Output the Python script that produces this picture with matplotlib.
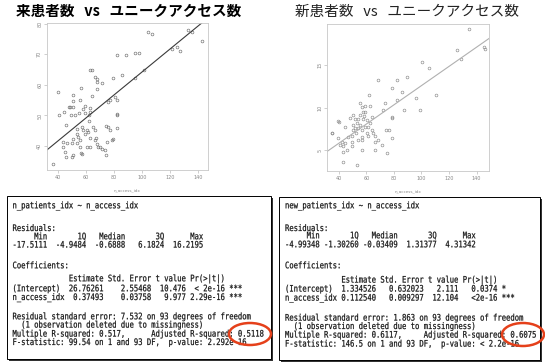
import numpy as np
import matplotlib
matplotlib.use("Agg")
import matplotlib.pyplot as plt
from matplotlib.patches import Rectangle, Ellipse, PathPatch
from matplotlib.textpath import TextPath
from matplotlib.font_manager import FontProperties
from matplotlib.transforms import Affine2D

# scatter data
left_x = [104.3, 106.7, 82.1, 88.4, 94.8, 97.9, 62.6, 64.3, 66.2, 67.9, 71.0, 78.9, 85.3,
          56.2, 40.0, 50.7, 50.7, 64.3, 55.5, 47.6, 50.7, 59.1, 57.9, 76.9, 75.7, 44.1,
          40.5, 49.1, 52.0, 62.6, 62.6, 55.0, 59.1, 81.7, 62.1, 62.1, 45.5, 53.1, 56.7,
          57.4, 60.3, 59.1, 61.4, 65.0, 66.2, 53.1, 54.3, 55.5, 62.6, 66.9, 74.1, 76.9,
          74.6, 78.1, 43.1, 46.0, 49.6, 53.6, 50.7, 43.1, 44.8, 45.5, 50.7, 56.0, 60.7,
          62.6, 68.6, 71.4, 73.4, 74.1, 36.4, 142.4, 132.9, 135.3, 124.6, 127.0, 121.0,
          101.2, 94.8, 80.5, 81.7, 81.7, 67.4, 67.4, 81.7, 75.7, 78.9, 66.2, 67.4, 69.8,
          55.5, 56.7, 49.6, 48.4]
left_y = [77.2, 76.7, 69.6, 69.9, 70.5, 70.5, 65.0, 65.0, 62.5, 60.9, 60.6, 62.3, 63.3,
          59.1, 57.7, 56.6, 54.6, 56.3, 55.0, 52.8, 52.8, 53.0, 52.2, 55.0, 54.4, 51.1,
          50.1, 50.1, 50.1, 52.6, 51.1, 50.8, 50.8, 50.1, 50.1, 48.2, 46.8, 45.7, 46.3,
          45.4, 45.2, 44.1, 44.6, 46.3, 45.2, 44.1, 43.0, 41.9, 42.8, 42.5, 46.5, 45.4,
          41.4, 41.9, 41.4, 40.9, 41.0, 40.9, 42.2, 39.6, 38.1, 36.5, 37.0, 37.6, 39.7,
          39.7, 39.7, 39.2, 38.7, 37.0, 34.3, 74.3, 78.0, 77.2, 72.3, 71.2, 71.8,
          65.0, 62.4, 56.0, 55.0, 50.6, 62.0, 58.8, 45.8, 46.3, 42.2, 41.9, 40.8, 39.7,
          39.7, 37.3, 36.5, 52.8]

right_x = [125.8, 100.4, 105.2, 68.8, 82.2, 89.5, 78.5, 85.8, 62.3, 96.2, 110.8, 82.2, 73.7,
           55.5, 59.1, 62.8, 56.7, 87.7, 99.1, 72.0, 57.9, 59.1, 78.5, 50.6, 55.5, 64.0,
           51.9, 54.3, 57.9, 60.4, 53.1, 50.6, 55.5, 59.1, 61.5, 51.9, 54.3, 56.7, 50.6,
           64.0, 65.2, 60.4, 61.5, 66.4, 74.4, 44.6, 39.7, 34.9, 47.0, 49.5, 54.3, 56.7,
           66.4, 68.8, 78.5, 39.7, 42.2, 40.9, 43.3, 44.6, 49.5, 49.5, 56.7, 66.4, 71.3,
           45.8, 42.9, 74.9, 42.9, 53.1, 134.5, 145.5, 146.2, 128.4, 40.0, 35.1, 78.8, 76.4,
           58.3, 52.5, 63.0, 57.0, 48.0]
right_y = [16.7, 15.3, 14.7, 13.3, 13.3, 13.6, 12.3, 11.9, 11.5, 11.2, 11.5, 10.9, 10.5,
           10.5, 10.2, 10.2, 10.1, 9.76, 9.76, 9.76, 9.56, 9.56, 8.79, 9.17, 9.17, 8.9,
           8.67, 8.67, 8.67, 8.59, 8.2, 8.0, 8.0, 7.8, 7.8, 7.6, 7.6, 7.4, 7.4,
           7.4, 7.0, 7.0, 6.7, 6.7, 7.4, 7.8, 8.5, 7.1, 6.6, 6.7, 6.2, 6.2,
           6.05, 6.2, 6.45, 6.45, 6.05, 5.66, 5.47, 5.86, 6.05, 5.47, 5.08, 5.0, 5.66,
           5.08, 4.88, 4.69, 3.6, 3.33, 19.2, 17.1, 16.9, 15.7, 8.39, 7.0, 8.97, 7.4,
           9.0, 7.0, 8.2, 6.6, 8.8]

# regression coefficients from the R output
left_coef = (26.76261, 0.37493)
right_coef = (1.334526, 0.112540)

left_title = "来患者数   vs   ユニークアクセス数"
right_title = "新患者数   vs   ユニークアクセス数"

left_lines = [
    "n_patients_idx ~ n_access_idx",
    "Residuals:",
    "     Min       1Q   Median       3Q      Max",
    "-17.5111  -4.9484  -0.6888   6.1824  16.2195",
    "Coefficients:",
    "             Estimate Std. Error t value Pr(>|t|)",
    "(Intercept)  26.76261    2.55468  10.476  < 2e-16 ***",
    "n_access_idx  0.37493    0.03758   9.977 2.29e-16 ***",
    "Residual standard error: 7.532 on 93 degrees of freedom",
    "  (1 observation deleted due to missingness)",
    "Multiple R-squared: 0.517,      Adjusted R-squared: 0.5118",
    "F-statistic: 99.54 on 1 and 93 DF,  p-value: 2.292e-16",
]
right_lines = [
    "new_patients_idx ~ n_access_idx",
    "Residuals:",
    "     Min       1Q   Median       3Q      Max",
    "-4.99348 -1.30260 -0.03409  1.31377  4.31342",
    "Coefficients:",
    "             Estimate Std. Error t value Pr(>|t|)",
    "(Intercept)  1.334526   0.632023   2.111   0.0374 *",
    "n_access_idx 0.112540   0.009297  12.104   <2e-16 ***",
    "Residual standard error: 1.863 on 93 degrees of freedom",
    "  (1 observation deleted due to missingness)",
    "Multiple R-squared: 0.6117,     Adjusted R-squared: 0.6075",
    "F-statistic: 146.5 on 1 and 93 DF,  p-value: < 2.2e-16",
]

# layout (pixels)
left_line_y = [205, 227.7, 236, 244.3, 265, 278, 288, 296.7, 316, 324.3, 333.3, 341.7]
right_line_y = [205, 227.7, 235, 244, 265, 279.3, 288.3, 297.3, 317.3, 325.7, 334.3, 343.3]

W, H = 545, 363
fig = plt.figure(figsize=(W / 100, H / 100), dpi=100)
fig.patch.set_facecolor("white")


def scatter_panel(rect, xs, ys, coef, xlim, ylim, yticks, pt_color, line_color):
    ax = fig.add_axes(rect)
    ax.plot(xs, ys, "o", ms=2.0, mfc="none", mec=pt_color, mew=0.45)
    ax.axline((0, coef[0]), slope=coef[1], color=line_color, lw=0.8)
    ax.set_xlim(*xlim)
    ax.set_ylim(*ylim)
    ax.set_xticks([40, 60, 80, 100, 120, 140])
    ax.set_yticks(yticks)
    for s in ax.spines.values():
        s.set_color("#c8c8c8")
        s.set_linewidth(0.6)
    ax.tick_params(length=2, width=0.4, color="#aaaaaa", labelsize=3.5,
                   labelcolor="#888888", pad=1.5)
    for lab in ax.get_yticklabels():
        lab.set_rotation(90)
        lab.set_va("center")
    ax.set_xlabel("n_access_idx", fontsize=3, color="#888888", labelpad=6)
    return ax


scatter_panel([47 / W, 1 - 170 / H, 161 / W, 147 / H], left_x, left_y, left_coef,
              (32, 147), (32.2, 80.2), [40, 50, 60, 70, 80], "#6e6e6e", "#3a3a3a")
scatter_panel([327 / W, 1 - 171 / H, 162 / W, 147 / H], right_x, right_y, right_coef,
              (31.5, 149), (2.6, 19.8), [5, 10, 15], "#8a8a8a", "#b0b0b0")

# overlay in pixel coordinates for titles and text boxes
ov = fig.add_axes([0, 0, 1, 1])
ov.set_xlim(0, W)
ov.set_ylim(H, 0)
ov.axis("off")
ov.patch.set_visible(False)

cjk = ["Noto Sans CJK JP", "DejaVu Sans"]
ov.text(129, 10.5, left_title, family=cjk, fontsize=10.5, fontweight="bold",
        ha="center", va="center", color="black")
ov.text(407, 11.5, right_title, family=cjk, fontsize=10.5,
        ha="center", va="center", color="#222222")

mono = FontProperties(family="DejaVu Sans Mono")


def mono_line(x, yc, s):
    # condensed, tall monospace line (like the screenshot's console font)
    tp = TextPath((0, 0), s, size=10, prop=mono)
    tr = Affine2D().scale(0.72, -0.9).translate(x, yc + 3.3) + ov.transData
    ov.add_patch(PathPatch(tp, transform=tr, facecolor="#111111",
                           edgecolor="#111111", lw=0.15, zorder=3))


def text_box(x0, y0, x1, y1, tx, lines, ys, ell):
    ov.add_patch(Rectangle((x0 + 1.5, y0 + 1.5), x1 - x0, y1 - y0,
                           facecolor="#333333", edgecolor="none", zorder=1))
    ov.add_patch(Rectangle((x0, y0), x1 - x0, y1 - y0,
                           facecolor="white", edgecolor="black", lw=0.7, zorder=2))
    for s, y in zip(lines, ys):
        mono_line(tx, y, s)
    ov.add_patch(Ellipse(ell[:2], ell[2], ell[3], facecolor="none",
                         edgecolor="#e5401a", lw=1.8, zorder=4))


text_box(7, 196, 271, 359, 12.5, left_lines, left_line_y, (250, 334, 42, 22))
text_box(279, 197, 540, 360, 285, right_lines, right_line_y, (523, 334.5, 42, 23))

fig.savefig("out.png", dpi=100)
